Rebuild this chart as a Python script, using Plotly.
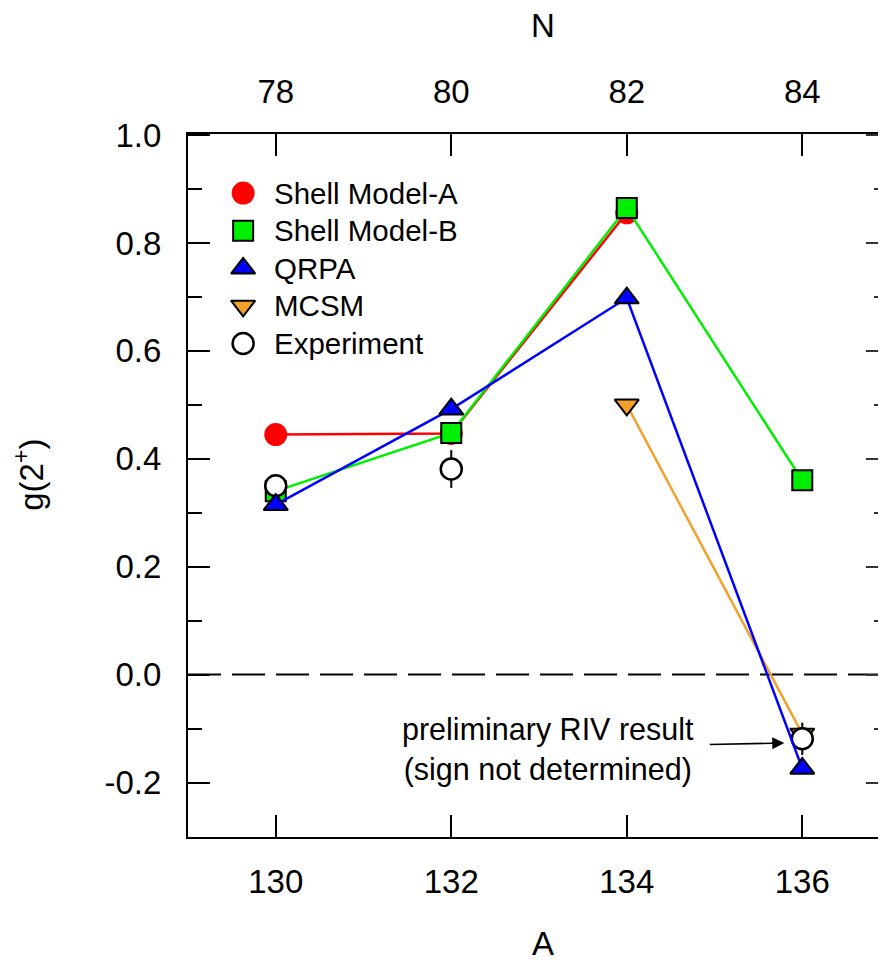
import plotly.graph_objects as go

# ---------------- data ----------------
A_values = [130, 132, 134, 136]
N_labels = ["78", "80", "82", "84"]

shell_model_a = [0.445, 0.447, 0.856, None]
shell_model_b = [0.340, 0.448, 0.865, 0.360]
qrpa = [0.315, 0.492, 0.698, -0.174]
mcsm = [None, None, 0.500, -0.110]

exp_A = [130, 132, 136]
exp_values = [0.350, 0.381, -0.119]
exp_errors = [0.020, 0.035, 0.030]

y_ticks = [-0.2, 0.0, 0.2, 0.4, 0.6, 0.8, 1.0]

series_names = ["Shell Model-A", "Shell Model-B", "QRPA", "MCSM", "Experiment"]

# ---------------- styles ----------------
RED = "#ff0000"
GREEN = "#00ee00"
BLUE = "#0000ff"
ORANGE = "#f2a12a"
FONT = "Liberation Sans, Arial, Helvetica, sans-serif"

styles = [
    dict(symbol="circle", color=RED, size=23, line=dict(width=0, color=RED)),
    dict(symbol="square", color=GREEN, size=20, line=dict(width=2, color="black")),
    dict(symbol="triangle-up", color=BLUE, size=21, line=dict(width=2, color="black")),
    dict(symbol="triangle-down", color=ORANGE, size=21, line=dict(width=2, color="black")),
    dict(symbol="circle", color="white", size=21, line=dict(width=2.5, color="black")),
]
line_colors = [RED, GREEN, BLUE, ORANGE]

fig = go.Figure()

model_series = [shell_model_a, shell_model_b, mcsm]
model_idx = [0, 1, 3]
for vals, idx in zip(model_series, model_idx):
    fig.add_trace(go.Scatter(
        x=A_values, y=vals, mode="lines+markers", name=series_names[idx],
        line=dict(color=line_colors[idx], width=2.5),
        marker=dict(**styles[idx], opacity=1), connectgaps=False, showlegend=False,
    ))

# experiment
fig.add_trace(go.Scatter(
    x=exp_A, y=exp_values, mode="markers", name=series_names[4],
    marker=dict(**styles[4], opacity=1),
    error_y=dict(type="data", array=exp_errors, color="black", thickness=2, width=0),
    showlegend=False,
))

# QRPA on top
fig.add_trace(go.Scatter(
    x=A_values, y=qrpa, mode="lines+markers", name=series_names[2],
    line=dict(color=BLUE, width=2.5), marker=dict(**styles[2], opacity=1), showlegend=False,
))

# ---------------- custom legend (symbols) ----------------
leg_x = 0.079
leg_y0 = 0.916
leg_step = 0.0535
leg_ys = [leg_y0 - i * leg_step for i in range(len(series_names))]
fig.add_trace(go.Scatter(
    x=[leg_x] * len(series_names), y=leg_ys, mode="markers",
    xaxis="x3", yaxis="y3", showlegend=False, hoverinfo="skip",
    marker=dict(
        symbol=[s["symbol"] for s in styles],
        color=[s["color"] for s in styles],
        size=[s["size"] for s in styles],
        opacity=1,
        line=dict(width=[s["line"]["width"] for s in styles], color="black"),
    ),
))

# invisible helper traces so overlay axes render
fig.add_trace(go.Scatter(x=[A_values[0]], y=[y_ticks[0]], xaxis="x2", yaxis="y",
                         mode="markers", marker=dict(opacity=0), showlegend=False, hoverinfo="skip"))
fig.add_trace(go.Scatter(x=[A_values[0]], y=[y_ticks[0]], xaxis="x", yaxis="y2",
                         mode="markers", marker=dict(opacity=0), showlegend=False, hoverinfo="skip"))

annotations = []
for name, yy in zip(series_names, leg_ys):
    annotations.append(dict(
        x=0.1203, y=yy, xref="paper", yref="paper", text=name, showarrow=False,
        xanchor="left", yanchor="middle", font=dict(family=FONT, size=29.5, color="black"),
    ))

# note text
annotations.append(dict(
    x=0.5158, y=0.1238, xref="paper", yref="paper",
    text="preliminary RIV result<br>(sign not determined)", showarrow=False,
    xanchor="center", yanchor="middle", align="center",
    font=dict(family=FONT, size=30.5, color="black"),
))
# arrow
annotations.append(dict(
    x=136, y=-0.126, xref="x", yref="y", text="", showarrow=True,
    ax=-94, ay=2, axref="pixel", ayref="pixel", standoff=18,
    arrowhead=2, arrowsize=1.5, arrowwidth=1.6, arrowcolor="black",
))
# axis titles
annotations.append(dict(x=0.508, y=-0.152, xref="paper", yref="paper", text="A",
                        showarrow=False, xanchor="center", yanchor="middle",
                        font=dict(family=FONT, size=33, color="black")))
annotations.append(dict(x=0.508, y=1.155, xref="paper", yref="paper", text="N",
                        showarrow=False, xanchor="center", yanchor="middle",
                        font=dict(family=FONT, size=33, color="black")))
annotations.append(dict(x=-0.228, y=0.515, xref="paper", yref="paper",
                        text="g(2<sup>+</sup>)", textangle=-90,
                        showarrow=False, xanchor="center", yanchor="middle",
                        font=dict(family=FONT, size=33, color="black")))

x_range = [129, 136.954]
y_range = [-0.301, 1.002]
tickfont = dict(family=FONT, size=33, color="black")

fig.update_layout(
    width=878, height=957,
    margin=dict(l=180, r=0, t=126, b=128),
    paper_bgcolor="white", plot_bgcolor="white",
    showlegend=False,
    annotations=annotations,
    shapes=[dict(type="line", xref="paper", yref="y", x0=0, x1=1, y0=0, y1=0,
                 line=dict(color="black", width=2, dash="33px,11px"), layer="below")],
    xaxis=dict(
        range=x_range, showline=True, linewidth=2, linecolor="black", mirror=False,
        ticks="inside", ticklen=22, tickwidth=2, tickcolor="black",
        tickvals=A_values, ticktext=[str(a) for a in A_values], tickfont=tickfont,
        showgrid=False, zeroline=False, ticklabelstandoff=14,
    ),
    xaxis2=dict(
        range=x_range, overlaying="x", side="top", anchor="y",
        showline=True, linewidth=2, linecolor="black",
        ticks="inside", ticklen=22, tickwidth=2, tickcolor="black",
        tickvals=A_values, ticktext=N_labels, tickfont=tickfont,
        showgrid=False, zeroline=False, ticklabelstandoff=16,
    ),
    yaxis=dict(
        range=y_range, showline=True, linewidth=2, linecolor="black", mirror=False,
        ticks="inside", ticklen=22, tickwidth=2, tickcolor="black",
        tickvals=y_ticks, ticktext=[f"{v:.1f}" for v in y_ticks], tickfont=tickfont,
        minor=dict(dtick=0.1, tick0=0, ticks="inside", ticklen=14, tickwidth=2, tickcolor="black"),
        showgrid=False, zeroline=False, ticklabelstandoff=18,
    ),
    yaxis2=dict(
        range=y_range, overlaying="y", side="right", anchor="x",
        showline=False, ticks="inside", ticklen=20, tickwidth=2, tickcolor="#333333",
        tickvals=y_ticks, showticklabels=False,
        minor=dict(dtick=0.1, tick0=0, ticks="inside", ticklen=12, tickwidth=2, tickcolor="#333333"),
        showgrid=False, zeroline=False,
    ),
    xaxis3=dict(range=[0, 1], overlaying="x", anchor="y3", visible=False),
    yaxis3=dict(range=[0, 1], overlaying="y", anchor="x3", visible=False),
)

fig.write_html("out.html")
